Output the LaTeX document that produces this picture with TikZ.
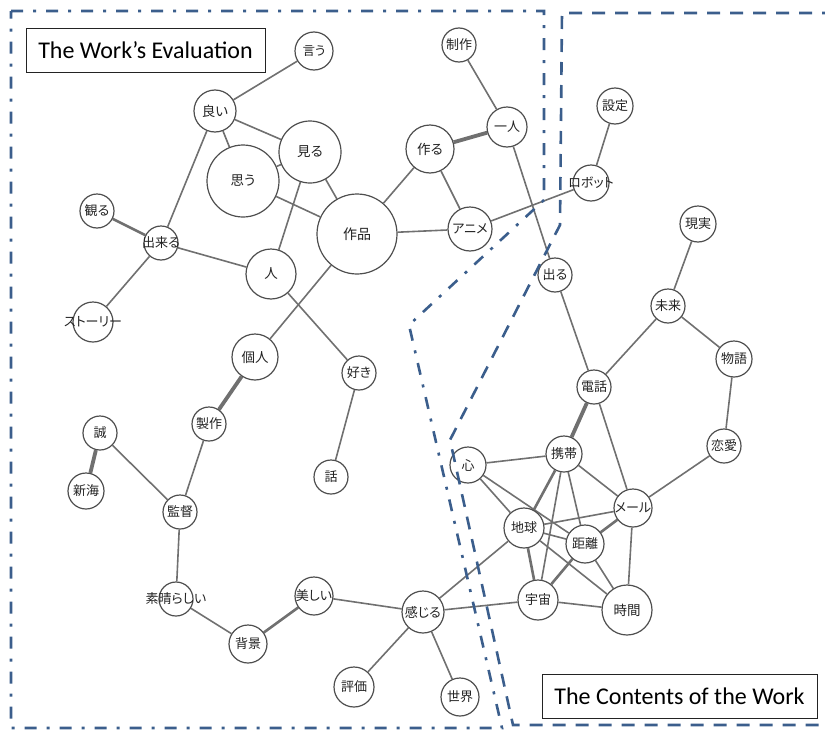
\documentclass[tikz,border=0pt]{standalone}
\usepackage{fontspec}
\setmainfont{Carlito}
\newfontfamily\jp[RawFeature=+palt]{Noto Sans CJK JP}
\usetikzlibrary{backgrounds}

\definecolor{edgegray}{RGB}{112,112,112}
\definecolor{ringgray}{RGB}{78,78,78}
\definecolor{zoneblue}{RGB}{59,94,140}
\definecolor{labelink}{RGB}{35,35,35}

% \kw[font size]{name}{x}{y}{radius}{word}: a keyword circle with its word laid over it
\newcommand\kw[6][13]{%
  \node[word, minimum size=2*#5pt,
        label={[inner sep=0pt, text=labelink, font=\jp\fontsize{#1}{#1}\selectfont]center:#6}]
        (#2) at (#3,#4) {};}

\begin{document}
\begin{tikzpicture}[x=1pt,y=-1pt,
  word/.style={circle, draw=ringgray, line width=1.2pt, fill=white, inner sep=0pt},
  link/.style={draw=edgegray, line width=1.6pt},
  midlink/.style={draw=edgegray, line width=2.6pt},
  heavylink/.style={draw=edgegray, line width=3.8pt},
  zone/.style={draw=zoneblue, line width=2.6pt},
  evalzone/.style={zone, dash pattern=on 12pt off 10pt on 3pt off 10pt},
  contzone/.style={zone, dash pattern=on 13pt off 10pt},
  tag/.style={draw=labelink, line width=1pt, fill=white, inner sep=0pt,
              font=\fontsize{24}{24}\selectfont, text=black}
]
\useasboundingbox (0,0) rectangle (825,731);

% --- evaluation keywords
\kw[12.5]{iu}{314}{51}{19}{言う}
\kw[13.5]{yoi}{215}{111}{21}{良い}
\kw[13.5]{miru}{310}{152}{31}{見る}
\kw[13.5]{omou}{243}{181}{36}{思う}
\kw[14]{sakuhin}{357}{234}{40}{作品}
\kw{kanmiru}{97}{211}{17}{観る}
\kw{dekiru}{161}{243}{17}{出来る}
\kw[13.5]{hito}{271}{274}{25}{人}
\kw{seisakuA}{459}{45}{17}{制作}
\kw{hitori}{507}{127}{20}{一人}
\kw[13.5]{tsukuru}{430}{149}{24}{作る}
\kw{anime}{470}{229}{22}{アニメ}
\kw{story}{93}{322}{20}{ストーリー}
\kw[13.5]{kojin}{255}{357}{23}{個人}
\kw{suki}{359}{373}{17}{好き}
\kw{makoto}{100}{433}{17}{誠}
\kw{shinkai}{86}{491}{18}{新海}
\kw{seisakuB}{209}{424}{17}{製作}
\kw{hanashi}{331}{477}{17}{話}
\kw{kantoku}{180}{512}{17}{監督}
\kw{subarashii}{176}{599}{17}{素晴らしい}
\kw{utsukushii}{314}{596}{19}{美しい}
\kw{haikei}{248}{644}{19}{背景}
\kw{hyoka}{354}{687}{20}{評価}
\kw{kanjiru}{423}{612}{21}{感じる}
\kw{sekai}{460}{697}{19}{世界}

% --- content keywords
\kw{settei}{615}{106}{18}{設定}
\kw{robot}{591}{183}{18}{ロボット}
\kw{genjitsu}{698}{224}{18}{現実}
\kw{deru}{555}{275}{17}{出る}
\kw{mirai}{668}{306}{17}{未来}
\kw{monogatari}{734}{359}{18}{物語}
\kw{denwa}{594}{387}{17}{電話}
\kw{renai}{724}{446}{17}{恋愛}
\kw{kokoro}{468}{465}{18}{心}
\kw{keitai}{564}{454}{18}{携帯}
\kw{mail}{633}{508}{19}{メール}
\kw{chikyu}{524}{528}{20}{地球}
\kw{kyori}{585}{544}{19}{距離}
\kw{uchu}{538}{600}{20}{宇宙}
\kw[13.5]{jikan}{627}{610}{25}{時間}

% --- co-occurrence links, kept behind the circles
\begin{pgfonlayer}{background}
  \draw[link] (iu) -- (yoi);
  \draw[link] (yoi) -- (miru);
  \draw[link] (yoi) -- (omou);
  \draw[link] (yoi) -- (dekiru);
  \draw[link] (miru) -- (omou);
  \draw[link] (miru) -- (sakuhin);
  \draw[link] (miru) -- (hito);
  \draw[link] (omou) -- (sakuhin);
  \draw[midlink] (kanmiru) -- (dekiru);
  \draw[link] (dekiru) -- (hito);
  \draw[link] (dekiru) -- (story);
  \draw[link] (sakuhin) -- (tsukuru);
  \draw[link] (sakuhin) -- (anime);
  \draw[link] (sakuhin) -- (kojin);
  \draw[link] (hito) -- (suki);
  \draw[heavylink] (tsukuru) -- (hitori);
  \draw[link] (tsukuru) -- (anime);
  \draw[link] (seisakuA) -- (hitori);
  \draw[link] (hitori) -- (deru);
  \draw[link] (anime) -- (robot);
  \draw[link] (robot) -- (settei);
  \draw[link] (genjitsu) -- (mirai);
  \draw[link] (deru) -- (denwa);
  \draw[link] (mirai) -- (denwa);
  \draw[link] (mirai) -- (monogatari);
  \draw[link] (monogatari) -- (renai);
  \draw[link] (renai) -- (mail);
  \draw[heavylink] (denwa) -- (keitai);
  \draw[link] (denwa) -- (mail);
  \draw[link] (kokoro) -- (keitai);
  \draw[link] (kokoro) -- (chikyu);
  \draw[link] (kokoro) -- (kyori);
  \draw[midlink] (keitai) -- (chikyu);
  \draw[link] (keitai) -- (uchu);
  \draw[link] (keitai) -- (kyori);
  \draw[link] (keitai) -- (mail);
  \draw[link] (mail) -- (chikyu);
  \draw[midlink] (mail) -- (kyori);
  \draw[link] (mail) -- (jikan);
  \draw[link] (chikyu) -- (kyori);
  \draw[midlink] (chikyu) -- (uchu);
  \draw[link] (chikyu) -- (jikan);
  \draw[link] (chikyu) -- (kanjiru);
  \draw[midlink] (kyori) -- (uchu);
  \draw[link] (kyori) -- (jikan);
  \draw[link] (uchu) -- (jikan);
  \draw[link] (uchu) -- (kanjiru);
  \draw[link] (kanjiru) -- (utsukushii);
  \draw[link] (kanjiru) -- (hyoka);
  \draw[link] (kanjiru) -- (sekai);
  \draw[midlink] (utsukushii) -- (haikei);
  \draw[link] (haikei) -- (subarashii);
  \draw[link] (subarashii) -- (kantoku);
  \draw[link] (kantoku) -- (makoto);
  \draw[link] (kantoku) -- (seisakuB);
  \draw[heavylink] (makoto) -- (shinkai);
  \draw[heavylink] (seisakuB) -- (kojin);
  \draw[link] (suki) -- (hanashi);
\end{pgfonlayer}

% --- the two groupings
\draw[evalzone] (11,11) -- (544,11) -- (544,200) -- (409,325) -- (502,728) -- (11,728) -- cycle;
\draw[contzone] (835,13) -- (562,13) -- (560,225) -- (450,440) -- (513,725) -- (835,725);

% --- group titles
\node[tag, minimum width=239pt, minimum height=44pt] (evaltag) at (145.5,50) {The Work’s Evaluation};
\node[tag, minimum width=275pt, minimum height=44pt] (conttag) at (679.5,696) {The Contents of the Work};
\end{tikzpicture}
\end{document}
